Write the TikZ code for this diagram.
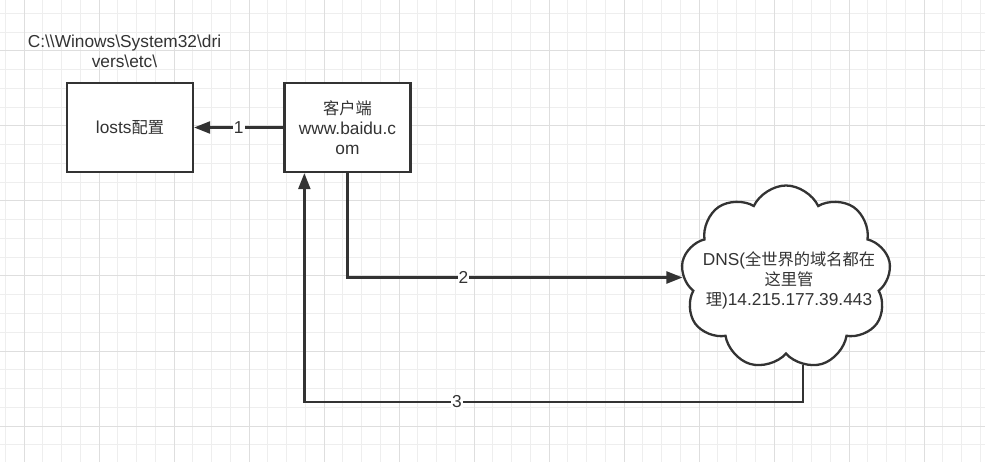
\documentclass[tikz,border=0pt]{standalone}
\usepackage{fontspec}
\setmainfont{Liberation Sans}
\newfontfamily\cjk{Noto Sans CJK SC}[Scale=0.94]
\usetikzlibrary{arrows.meta,shapes.symbols}
\definecolor{ink}{HTML}{333333}
\definecolor{gridminor}{HTML}{EEEEEE}
\definecolor{gridmajor}{HTML}{DEDEDE}
\tikzset{
  txt/.style={font=\fontsize{17.3}{20}\selectfont, text=ink, align=center, inner sep=0pt},
  box/.style={draw=ink, line width=2.3pt, fill=white, minimum width=126pt, minimum height=89pt, inner sep=0pt, font=\fontsize{17.3}{20}\selectfont, text=ink, align=center},
  arr/.style={draw=ink, line width=2.3pt, -{Triangle[length=16pt,width=12pt]}},
  lbl/.style={fill=white, text=ink, inner sep=1pt, font=\fontsize{17.3}{20}\selectfont},
}
\begin{document}
\begin{tikzpicture}[x=1pt,y=-1pt]
\useasboundingbox (0,0) rectangle (985,462);
\fill[white] (0,0) rectangle (985,462);
% grid
\foreach \i in {0,...,52} {
  \draw[gridminor, line width=1pt] ({5.25+18.75*\i},0) -- ({5.25+18.75*\i},462);
}
\foreach \i in {0,...,25} {
  \draw[gridminor, line width=1pt] (0,{13.5+18.75*\i}) -- (985,{13.5+18.75*\i});
}
\foreach \i in {0,...,13} {
  \draw[gridmajor, line width=1pt] ({24+75*\i},0) -- ({24+75*\i},462);
}
\foreach \i in {0,...,5} {
  \draw[gridmajor, line width=1pt] (0,{51+75*\i}) -- (985,{51+75*\i});
}
% nodes
\node[txt] (path) at (124.5,51) {C:\textbackslash\textbackslash Winows\textbackslash System32\textbackslash dri\\vers\textbackslash etc\textbackslash};
\node[box] (hosts) at (130,127.5) {losts{\cjk 配置}};
\node[box] (client) at (347.5,127.5) {{\cjk 客户端}\\www.baidu.c\\om};
\node[cloud, cloud puffs=9, cloud puff arc=130, draw=ink, line width=2.3pt, fill=white, minimum width=210pt, minimum height=184pt, inner sep=0pt] (dns) at (786,277.5) {};
\node[txt] (dnstext) at (789,280) {DNS({\cjk 全世界的域名都在}\\{\cjk 这里管}\\{\cjk 理})14.215.177.39.443};
\coordinate (bot) at (0,402);
% connectors
\draw[arr] (client.west) -- node[lbl]{1} (hosts.east);
\draw[arr] (client.south) |- node[lbl,pos=0.673]{2} (dns.west);
\draw[arr] (dns.-79) -- (dns.-79 |- bot) -| node[lbl,pos=0.347]{3} ([xshift=21pt]client.south west);
\end{tikzpicture}
\end{document}
